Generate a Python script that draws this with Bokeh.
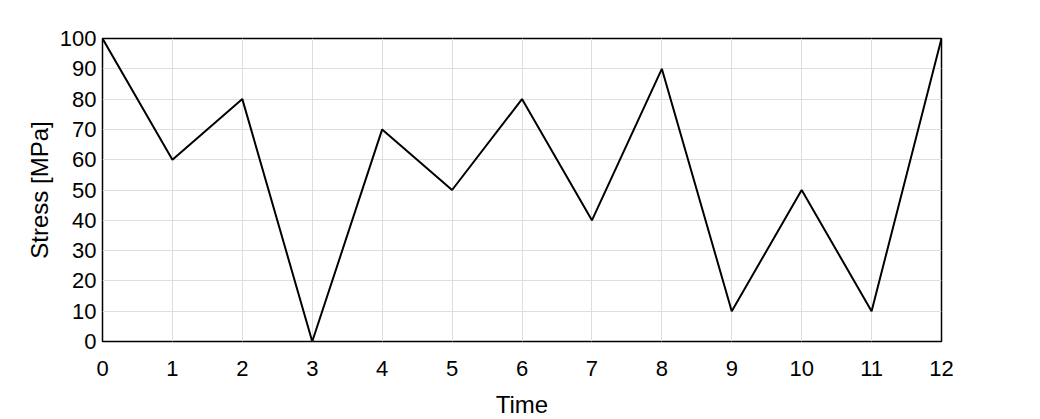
from bokeh.plotting import figure
from bokeh.models import FixedTicker, Range1d
from bokeh.embed import file_html
from bokeh.resources import INLINE

time = [0, 1, 2, 3, 4, 5, 6, 7, 8, 9, 10, 11, 12]
stress = [100, 60, 80, 0, 70, 50, 80, 40, 90, 10, 50, 10, 100]
x_ticks = list(range(0, 13))
y_ticks = list(range(0, 101, 10))

p = figure(width=1024, height=430, output_backend="svg", toolbar_location=None,
           x_range=Range1d(0, 12), y_range=Range1d(0, 100),
           min_border_left=102, min_border_top=38, min_border_right=83, min_border_bottom=89)
p.line(time, stress, line_color="black", line_width=2)

FONT = "Liberation Sans"
for ax in (p.xaxis[0], p.yaxis[0]):
    ax.major_tick_line_color = None
    ax.minor_tick_line_color = None
    ax.major_tick_out = 0
    ax.major_tick_in = 0
    ax.axis_line_color = None
    ax.major_label_text_font = FONT
    ax.major_label_text_font_size = "22px"
    ax.major_label_text_color = "black"
    ax.axis_label_text_font = FONT
    ax.axis_label_text_font_size = "24px"
    ax.axis_label_text_font_style = "normal"
    ax.axis_label_text_color = "black"

p.xaxis.ticker = FixedTicker(ticks=x_ticks)
p.yaxis.ticker = FixedTicker(ticks=y_ticks)
p.xaxis.axis_label = "Time"
p.yaxis.axis_label = "Stress [MPa]"
p.xaxis.major_label_standoff = 19
p.yaxis.major_label_standoff = 6
p.xaxis.axis_label_standoff = 12
p.yaxis.axis_label_standoff = 4

p.grid.grid_line_color = "#dedede"
p.grid.grid_line_width = 1
p.outline_line_color = "black"
p.outline_line_width = 1.5
p.background_fill_color = "white"
p.border_fill_color = "white"

open("out.html", "w").write(file_html(p, INLINE))
